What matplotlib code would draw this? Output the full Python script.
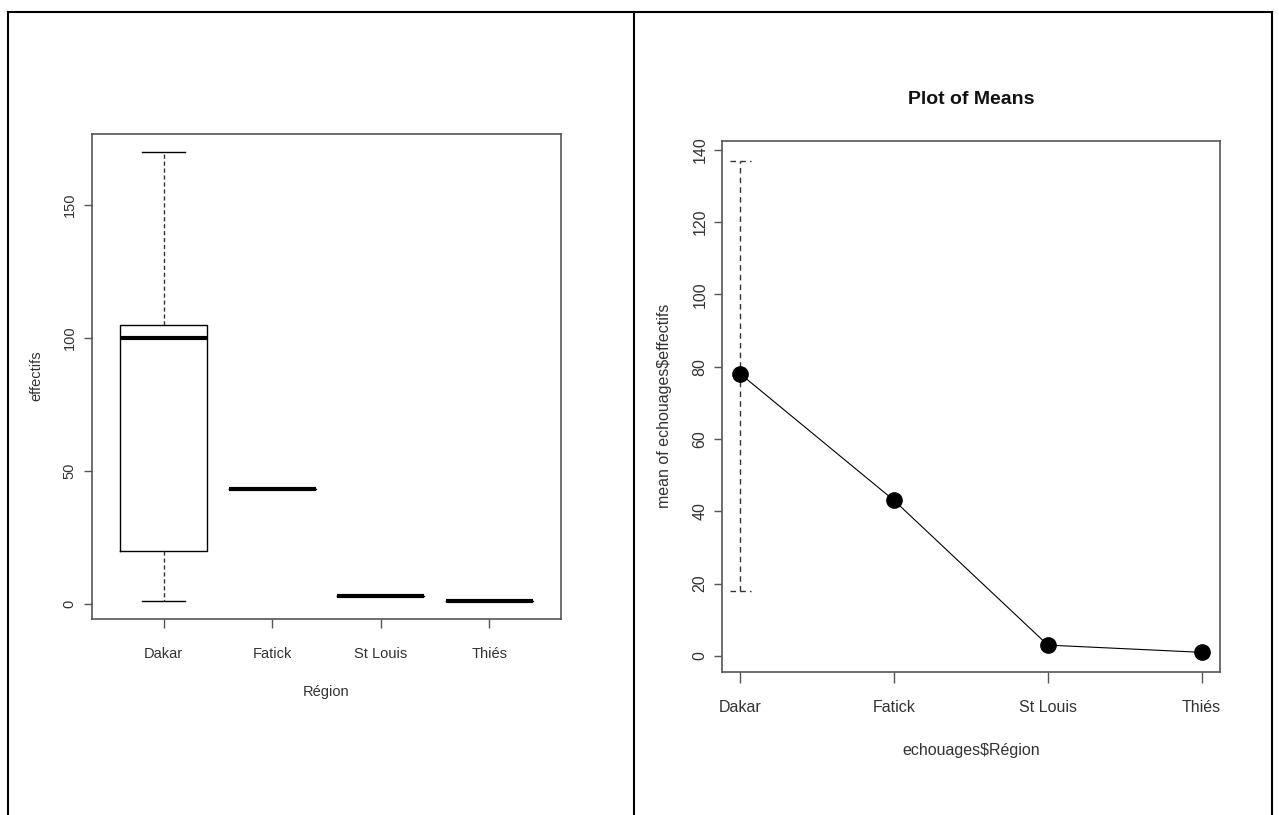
import matplotlib
matplotlib.use("Agg")
import matplotlib.pyplot as plt
from matplotlib.lines import Line2D

plt.rcParams["font.family"] = ["Liberation Sans", "DejaVu Sans"]

# data
regions = ["Dakar", "Fatick", "St Louis", "Thiés"]
box_low = [1, 43, 3, 1]
box_q1 = [20, 43, 3, 1]
box_med = [100, 43, 3, 1]
box_q3 = [105, 43, 3, 1]
box_high = [170, 43, 3, 1]

means = [78, 43, 3, 1]
ci_lower = [18, None, None, None]
ci_upper = [137, None, None, None]

W, H = 1279, 815
fig = plt.figure(figsize=(W / 100, H / 100), dpi=100)
fig.patch.set_facecolor("white")

def px_axes(x0, y0, x1, y1):
    return fig.add_axes([x0 / W, 1 - y1 / H, (x1 - x0) / W, (y1 - y0) / H])

def px_text(x, y, s, **kw):
    fig.text(x / W, 1 - y / H, s, ha="center", va="center", **kw)

def style_axes(ax, fs, xlen, xpad, ypad):
    for sp in ax.spines.values():
        sp.set_color("#555555")
        sp.set_linewidth(1.2)
    ax.tick_params(axis="both", colors="#555555", labelcolor="#333333",
                   labelsize=fs, length=5.5, width=1.0)
    ax.tick_params(axis="x", pad=xpad, length=xlen)
    ax.tick_params(axis="y", pad=ypad)
    for lab in ax.get_yticklabels():
        lab.set_rotation(90)
        lab.set_va("center")

# ---- left panel: boxplot
ax1 = px_axes(92, 134, 561, 619)
stats = []
for i, r in enumerate(regions):
    stats.append({"label": r, "whislo": box_low[i], "q1": box_q1[i], "med": box_med[i],
                  "q3": box_q3[i], "whishi": box_high[i], "fliers": []})
ax1.bxp(stats, widths=0.8, capwidths=0.4, showfliers=False,
        boxprops=dict(color="black", linewidth=1.0),
        whiskerprops=dict(color="#333333", linewidth=1.0, linestyle=(0, (3, 2))),
        capprops=dict(color="black", linewidth=1.0),
        medianprops=dict(color="black", linewidth=3.0))
lo, hi = min(box_low), max(box_high)
pad = 0.04 * (hi - lo)
ax1.set_ylim(lo - pad, hi + pad)
ax1.set_xlim(0.5 - 0.04 * 4, 4.5 + 0.04 * 4)
ax1.set_yticks([0, 50, 100, 150])
ax1.set_yticklabels(["0", "50", "100", "150"])
style_axes(ax1, 10.5, 6.5, 13.3, 5.5)

px_text(36, 376, "effectifs", rotation=90, fontsize=10.5, color="#333333")
px_text(326, 692, "Région", fontsize=10.5, color="#333333")

# ---- right panel: plot of means
ax2 = px_axes(722, 141, 1220, 672)
xs = list(range(1, len(regions) + 1))
ax2.plot(xs, means, color="black", linewidth=0.8, zorder=2)
ax2.plot(xs, means, "o", color="black", markersize=11, zorder=3)
cap = 0.07
for x, l, u in zip(xs, ci_lower, ci_upper):
    if l is None:
        continue
    ax2.vlines(x, l, u, color="#333333", linewidth=1.0, linestyles=(0, (4, 3)))
    ax2.hlines([l, u], x - cap, x + cap, color="#333333", linewidth=1.0,
               linestyles=(0, (4, 3)))
vals = [v for v in means + ci_lower + ci_upper if v is not None]
lo, hi = min(vals), max(vals)
pad = 0.04 * (hi - lo)
ax2.set_ylim(lo - pad, hi + pad)
ax2.set_xlim(1 - 0.04 * 3, 4 + 0.04 * 3)
ax2.set_xticks(xs)
ax2.set_xticklabels(regions)
ax2.set_yticks(range(0, 141, 20))
ax2.set_yticklabels([str(v) for v in range(0, 141, 20)])
style_axes(ax2, 11.5, 8, 12.4, 5)

px_text(971, 100, "Plot of Means", fontsize=14, fontweight="bold", color="#111111")
px_text(664, 406, "mean of echouages$effectifs", rotation=90, fontsize=11.5, color="#333333")
px_text(971, 751, "echouages$Région", fontsize=11.5, color="#333333")

# ---- outer frame of the two cells
frame = dict(color="black", linewidth=1.5, transform=fig.transFigure)
fig.add_artist(Line2D([8 / W, 1272 / W], [1 - 12 / H, 1 - 12 / H], **frame))
fig.add_artist(Line2D([8 / W, 8 / W], [1 - 12 / H, 0], **frame))
fig.add_artist(Line2D([1272 / W, 1272 / W], [1 - 12 / H, 0], **frame))
fig.add_artist(Line2D([634 / W, 634 / W], [1 - 12 / H, 0], **frame))

fig.savefig("out.png", dpi=100)
